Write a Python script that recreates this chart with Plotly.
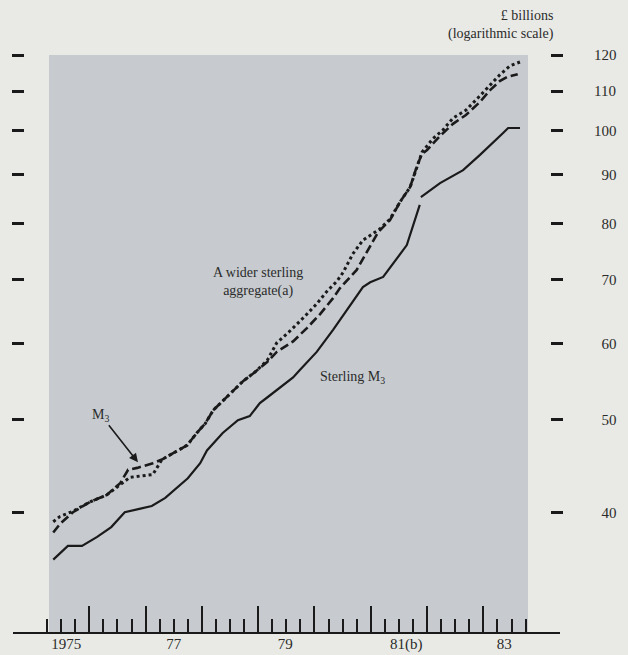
import math
import plotly.graph_objects as go

# ---------------- data ----------------
# Sterling M3 (solid) — series break at end-1981 (None)
sm3_year = [1975.36, 1975.62, 1975.87, 1976.14, 1976.39, 1976.63, 1976.87, 1977.11, 1977.35,
            1977.56, 1977.75, 1977.97, 1978.09, 1978.37, 1978.64, 1978.85, 1979.03, 1979.16,
            1979.39, 1979.62, 1979.74, 1980.04, 1980.33, 1980.51, 1980.86, 1980.99, 1981.22,
            1981.64, 1981.87, 1981.88, 1981.89, 1982.23, 1982.64, 1982.94, 1983.35, 1983.44,
            1983.65]
sm3_value = [35.7, 36.9, 36.9, 37.7, 38.6, 40.0, 40.3, 40.6, 41.4,
             42.4, 43.4, 45.0, 46.4, 48.4, 49.9, 50.4, 52.0, 52.7,
             54.0, 55.3, 56.3, 58.8, 62.0, 64.2, 68.7, 69.5, 70.4,
             76.0, 83.7, None, 85.3, 88.2, 91.0, 94.4, 99.5, 100.7,
             100.7]

# M3 (dashed)
m3_year = [1975.36, 1975.48, 1975.71, 1976.01, 1976.31, 1976.55, 1976.69, 1976.85, 1977.13,
           1977.29, 1977.49, 1977.74, 1977.91, 1978.06, 1978.20, 1978.50, 1978.73, 1978.94,
           1979.16, 1979.33, 1979.62, 1979.87, 1980.10, 1980.33, 1980.45, 1980.75, 1980.90,
           1981.04, 1981.13, 1981.34, 1981.52, 1981.70, 1981.82, 1981.91, 1982.00, 1982.23,
           1982.46, 1982.69, 1982.94, 1983.12, 1983.29, 1983.42, 1983.61]
m3_value = [38.1, 38.9, 40.0, 41.0, 41.7, 42.9, 44.3, 44.5, 45.0,
            45.4, 46.1, 47.0, 48.4, 49.5, 51.1, 53.1, 54.8, 56.0,
            57.4, 58.8, 60.3, 62.3, 64.4, 66.9, 68.5, 71.6, 74.2,
            76.6, 78.4, 80.7, 84.3, 87.4, 91.9, 94.6, 95.5, 98.8,
            101.7, 103.9, 107.2, 110.3, 112.7, 113.8, 114.6]

# A wider sterling aggregate (dotted)
wide_year = [1975.36, 1975.48, 1975.71, 1976.01, 1976.31, 1976.55, 1976.72, 1977.13, 1977.29,
             1977.49, 1977.74, 1977.91, 1978.06, 1978.20, 1978.50, 1978.73, 1978.94, 1979.16,
             1979.33, 1979.56, 1979.80, 1980.04, 1980.22, 1980.40, 1980.51, 1980.68, 1980.86,
             1981.16, 1981.34, 1981.52, 1981.70, 1981.82, 1981.91, 1982.10, 1982.28, 1982.46,
             1982.69, 1982.94, 1983.12, 1983.29, 1983.47, 1983.65]
wide_value = [39.1, 39.6, 40.1, 41.0, 41.7, 42.8, 43.5, 43.8, 45.4,
              46.1, 47.0, 48.4, 49.5, 51.1, 53.1, 54.8, 56.0, 57.6,
              60.1, 61.8, 63.8, 66.0, 68.0, 69.7, 71.2, 74.4, 76.9,
              79.0, 80.9, 84.3, 87.4, 91.9, 95.0, 98.1, 100.2, 103.1,
              105.1, 108.8, 111.6, 114.4, 116.9, 118.0]

# axis ticks / labels
y_ticks = [40, 50, 60, 70, 80, 90, 100, 110, 120]
year_ticks = [1976, 1977, 1978, 1979, 1980, 1981, 1982, 1983]
quarter_ticks = [1975.25, 1975.5, 1975.75] + [y + q for y in range(1976, 1984) for q in (0.25, 0.5, 0.75)]
year_label_text = ["1975", "77", "79", "81(b)", "83"]
year_label_pos = [1975.59, 1977.5, 1979.48, 1981.63, 1983.37]

# ---------------- styling ----------------
BG = "#e9eae5"
SHADE = "#c7cbd0"
INK = "#1a1a1a"
TXT = "#2b2b2b"
FONT = "Liberation Serif"

W, H = 628, 655
ML, MR, MT, MB = 13, 8, 55, 23
PW = W - ML - MR
PH = H - MT - MB


def px_x(p):
    return (p - ML) / PW


def px_y(p):
    return (H - MB - p) / PH


XR = [1974.645, 1984.361]
YR = [math.log10(30), math.log10(120)]

# right-aligned labels: pad with figure spaces
y_tick_text = [str(v).rjust(3, "\u2007") for v in y_ticks]

fig = go.Figure()
fig.add_trace(go.Scatter(x=sm3_year, y=sm3_value, mode="lines", connectgaps=False,
                         line=dict(color=INK, width=2.2), name="Sterling M3"))
fig.add_trace(go.Scatter(x=m3_year, y=m3_value, mode="lines",
                         line=dict(color=INK, width=2.6, dash="9px,4px"), name="M3"))
fig.add_trace(go.Scatter(x=wide_year, y=wide_value, mode="lines",
                         line=dict(color=INK, width=3, dash="3px,3px"), name="Wider aggregate"))

fig.add_shape(type="rect", xref="paper", yref="paper", x0=px_x(49), x1=px_x(528), y0=0, y1=1,
              fillcolor=SHADE, line=dict(width=0), layer="below")

fig.update_layout(
    width=W, height=H, margin=dict(l=ML, r=MR, t=MT, b=MB, autoexpand=False),
    paper_bgcolor=BG, plot_bgcolor=BG, showlegend=False,
    font=dict(family=FONT, color=TXT, size=14),
    xaxis=dict(domain=[0, (560 - ML) / PW], anchor="y", range=XR, showgrid=False, zeroline=False,
               automargin=False,
               showline=True, linecolor=INK, linewidth=2,
               tickmode="array", tickvals=year_ticks, ticks="inside", ticklen=26, tickwidth=2,
               tickcolor=INK, showticklabels=False,
               minor=dict(tickmode="array", tickvals=quarter_ticks, ticks="inside", ticklen=13,
                          tickwidth=2, tickcolor=INK, showgrid=False)),
    xaxis2=dict(overlaying="x", anchor="y", side="bottom", range=XR, showgrid=False, zeroline=False,
                automargin=False,
                showline=False, tickmode="array", tickvals=year_label_pos, ticktext=year_label_text,
                ticks="", ticklabelstandoff=1,
                tickfont=dict(family=FONT, size=15, color=TXT)),
    yaxis=dict(type="log", range=YR, domain=[0, 1], anchor="free", position=px_x(24), side="left",
               automargin=False,
               showgrid=False, zeroline=False, showline=False, tickmode="array", tickvals=y_ticks,
               ticks="outside", ticklen=12, tickwidth=3, tickcolor=INK, showticklabels=False),
    yaxis2=dict(type="log", range=YR, overlaying="y", anchor="free", position=px_x(550), side="right",
                automargin=False,
                showgrid=False, zeroline=False, showline=False, tickmode="array", tickvals=y_ticks,
                ticktext=y_tick_text, ticklabelstandoff=28,
                ticks="outside", ticklen=12, tickwidth=3, tickcolor=INK, showticklabels=True,
                tickfont=dict(family=FONT, size=15, color=TXT)),
)

# dummy trace so the overlay axes render
fig.add_trace(go.Scatter(x=[None], y=[None], xaxis="x2", yaxis="y2", showlegend=False, hoverinfo="skip"))

fig.add_annotation(xref="paper", yref="paper", x=px_x(556), y=px_y(25), xanchor="right",
                   yanchor="middle", align="right", showarrow=False,
                   text="£ billions<br>(logarithmic scale)", font=dict(size=14, color=TXT))
fig.add_annotation(xref="paper", yref="paper", x=px_x(258), y=px_y(282), xanchor="center",
                   yanchor="middle", align="center", showarrow=False,
                   text="A wider sterling<br>aggregate(a)", font=dict(size=14, color=TXT))
fig.add_annotation(xref="paper", yref="paper", x=px_x(352), y=px_y(378), xanchor="center",
                   yanchor="middle", showarrow=False,
                   text="Sterling M<sub>3</sub>", font=dict(size=14, color=TXT))
fig.add_annotation(xref="x", yref="y", x=1976.865, y=math.log10(45.1), ax=-37, ay=-47,
                   text="M<sub>3</sub>", showarrow=True, arrowhead=2, arrowsize=1.1,
                   arrowwidth=1.6, arrowcolor=INK, font=dict(size=14, color=TXT))

fig.write_html(
    "out.html",
    config={"displayModeBar": False, "staticPlot": True},
    post_script="document.body.style.margin='0';document.body.style.background='%s';"
                "document.documentElement.style.overflow='hidden';" % BG,
)
